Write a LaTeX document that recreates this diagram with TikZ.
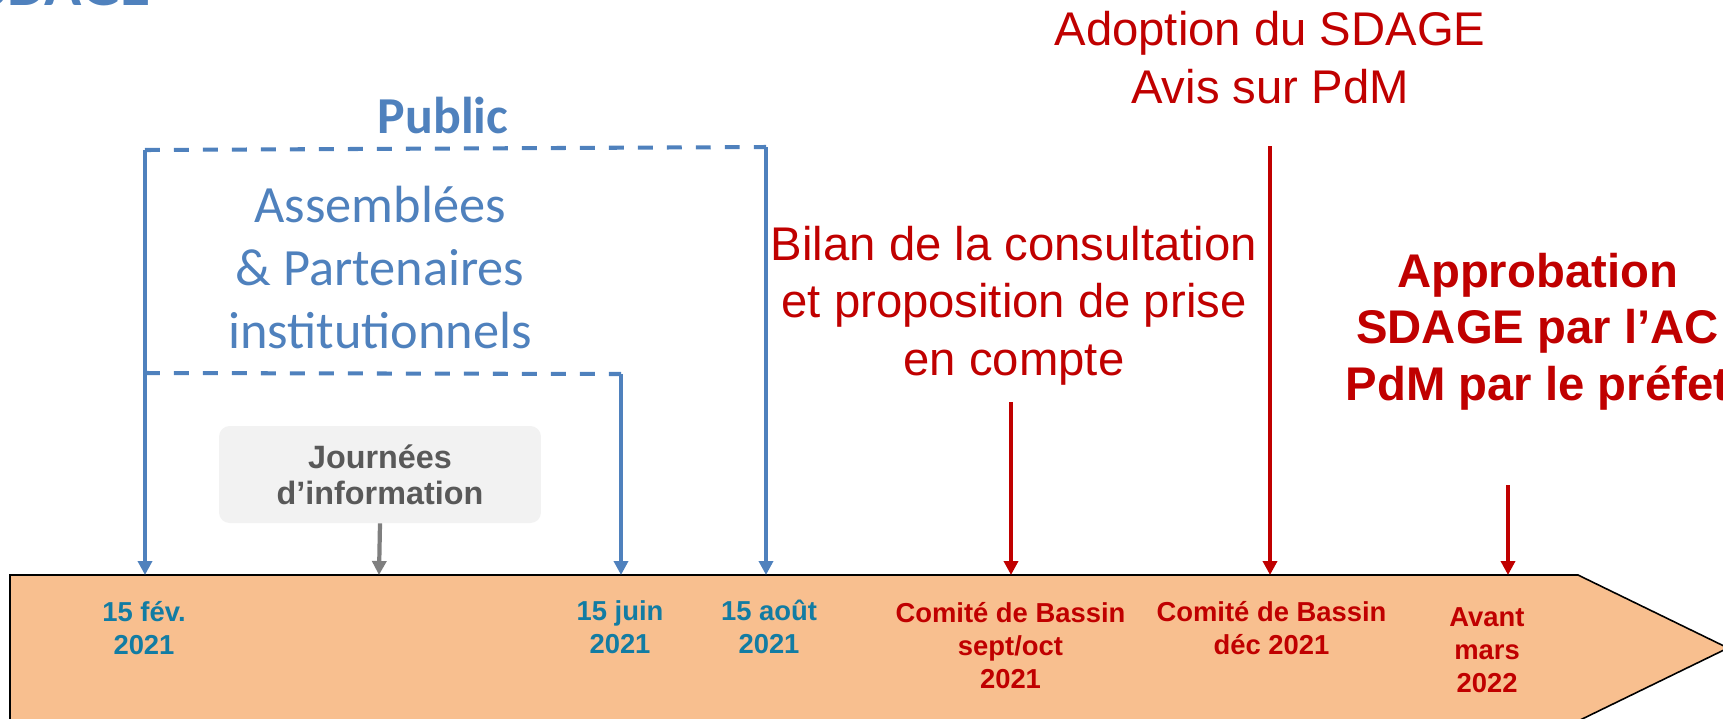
\documentclass[tikz,border=0pt]{standalone}
\usepackage{fontspec}
\setmainfont{Liberation Sans}
\newfontfamily\calibri{Carlito}
\usetikzlibrary{arrows.meta}

\definecolor{bleu}{RGB}{79,129,189}
\definecolor{bleudate}{RGB}{18,124,163}
\definecolor{rouge}{RGB}{192,0,0}
\definecolor{peche}{RGB}{248,191,143}
\definecolor{grisfond}{RGB}{242,242,242}
\definecolor{gristxt}{RGB}{89,89,89}
\definecolor{grisfl}{RGB}{127,127,127}

\begin{document}
\begin{tikzpicture}
[
    x=0.02cm, y=-0.02cm,
    fleche/.style={line width=2.4pt, -{Triangle[length=2.8mm, width=2.8mm]}},
    bleuarr/.style={fleche, draw=bleu, line width=2pt},
    rougearr/.style={fleche, draw=rouge},
    grisarr/.style={fleche, draw=grisfl},
    pointille/.style={draw=bleu, line width=2.3pt, dash pattern=on 8.5pt off 8pt},
    rougetxt/.style={anchor=base, align=center, inner sep=0pt, text=rouge,
        font=\fontsize{26.9pt}{32.5pt}\selectfont},
    approb/.style={rougetxt, font=\bfseries\fontsize{26.9pt}{32pt}\selectfont},
    bleutxt/.style={anchor=base, align=center, inner sep=0pt, text=bleu,
        font=\calibri\fontsize{29.8pt}{35.7pt}\selectfont},
    datelbl/.style={anchor=base, align=center, inner sep=0pt,
        font=\bfseries\fontsize{15.6pt}{18.7pt}\selectfont},
    infobox/.style={fill=grisfond, rounded corners=6pt, align=center, text=gristxt,
        minimum width=6.44cm, minimum height=1.94cm, inner sep=0pt,
        font=\bfseries\fontsize{18.4pt}{20.4pt}\selectfont},
]
\useasboundingbox (0,0) rectangle (1723,718);

% frise
\draw[fill=peche, draw=black, line width=0.9pt]
    (10,575) -- (1578,575) -- (1728,648) -- (1578,721) -- (10,721) -- cycle;
\coordinate (tfev) at (145,575);
\coordinate (tjourn) at (379,575);
\coordinate (tjuin) at (621,575);
\coordinate (taout) at (766,575);
\coordinate (tcb1) at (1011,575);
\coordinate (tcb2) at (1270,575);
\coordinate (tavant) at (1508,575);

% titre coupe
\node[anchor=base east, inner sep=0pt, text=bleu,
    font=\calibri\bfseries\fontsize{35pt}{40pt}\selectfont] (titre) at (151,5) {SDAGE};

% consultation
\coordinate (pubg) at (145,150);
\coordinate (pubd) at (766,147);
\coordinate (assg) at (145,373);
\coordinate (assd) at (621,374);
\draw[pointille] (pubg) -- (pubd);
\draw[pointille] (assg) -- (assd);
\draw[bleuarr] (pubg) -- (tfev);
\draw[bleuarr] (pubd) -- (taout);
\draw[bleuarr] (assd) -- (tjuin);

\node[bleutxt, font=\calibri\bfseries\fontsize{29.5pt}{35pt}\selectfont] (public) at (443,133) {Public};
\node[bleutxt] (assemb) at (380,348) {Assemblées\\\& Partenaires\\institutionnels};
\node[infobox] (journees) at (380,474.5) {Journées\\d’information};
\draw[grisarr] (journees.south) -- (tjourn);

% suites
\node[rougetxt] (bilan) at (1014,375) {Bilan de la consultation\\et proposition de prise\\en compte};
\node[rougetxt] (adoption) at (1270,103) {Adoption du SDAGE\\Avis sur PdM};
\node[approb] (approbation) at (1537.5,400) {Approbation\\SDAGE par l’AC\\PdM par le préfet};
\coordinate (bilanb) at (1011,402);
\coordinate (adoptb) at (1270,146);
\coordinate (approbb) at (1508,485);
\draw[rougearr] (bilanb) -- (tcb1);
\draw[rougearr] (adoptb) -- (tcb2);
\draw[rougearr] (approbb) -- (tavant);

% dates
\node[datelbl, text=bleudate] (dfev) at (144,654) {15 fév.\\2021};
\node[datelbl, text=bleudate] (djuin) at (620,653) {15 juin\\2021};
\node[datelbl, text=bleudate] (daout) at (769,653) {15 août\\2021};
\node[datelbl, text=rouge] (dcb1) at (1010.5,688) {Comité de Bassin\\sept/oct\\2021};
\node[datelbl, text=rouge] (dcb2) at (1271.5,654) {Comité de Bassin\\déc 2021};
\node[datelbl, text=rouge] (davant) at (1487,692) {Avant\\mars\\2022};
\end{tikzpicture}
\end{document}
